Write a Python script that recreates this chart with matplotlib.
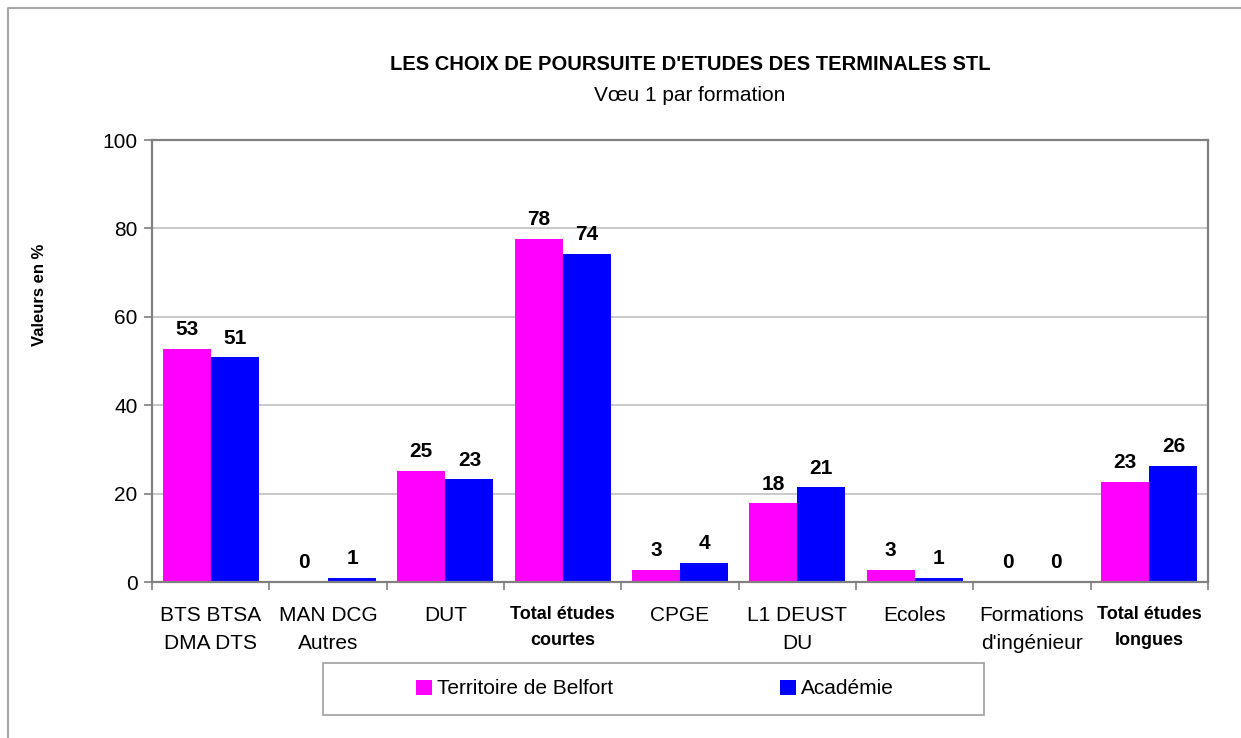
import matplotlib.pyplot as plt
import numpy as np
from matplotlib.lines import Line2D
from matplotlib.patches import Rectangle, Patch

categories = ["BTS BTSA\nDMA DTS", "MAN DCG\nAutres", "DUT", "Total études\ncourtes",
              "CPGE", "L1 DEUST\nDU", "Ecoles", "Formations\nd'ingénieur",
              "Total études\nlongues"]
is_total = [False, False, False, True, False, False, False, False, True]
belfort = [52.7, 0.0, 25.2, 77.7, 2.8, 17.8, 2.8, 0.0, 22.7]
academie = [50.8, 0.9, 23.2, 74.3, 4.4, 21.4, 0.9, 0.0, 26.2]
series_names = ["Territoire de Belfort", "Académie"]
colors = ["#ff00ff", "#0000ff"]
yticks = [0, 20, 40, 60, 80, 100]

plt.rcParams['font.family'] = ['Liberation Sans', 'DejaVu Sans']

W, H = 1241, 738
fig = plt.figure(figsize=(W / 100, H / 100), dpi=100)


def fx(px):
    return px / W


def fy(py):
    return 1 - py / H


ax = fig.add_axes([fx(152), fy(582), fx(1208) - fx(152), fy(140) - fy(582)])

x = np.arange(len(categories))
bw = 0.41
for vals, off, col in [(belfort, -bw / 2, colors[0]), (academie, bw / 2, colors[1])]:
    ax.bar(x + off, vals, width=bw, color=col, zorder=2)
    for xi, v in zip(x, vals):
        ax.annotate(f"{v:.0f}", (xi + off, v), xytext=(0, 7), textcoords="offset points",
                    ha="center", va="bottom", fontsize=15, fontweight="bold")

ax.set_xlim(-0.5, len(categories) - 0.5)
ax.set_ylim(0, 100)
ax.set_yticks(yticks)
ax.tick_params(axis="y", labelsize=15, length=5.5, width=1.2, color="#808080", pad=5)
ax.set_xticks(x)
ax.set_xticklabels(categories, fontsize=15, linespacing=1.6)
ax.set_xticks(np.arange(-0.5, len(categories)), minor=True)
ax.tick_params(axis="x", which="major", length=0, pad=17)
ax.tick_params(axis="x", which="minor", length=5.5, width=1.2, color="#808080")
for lbl, tot in zip(ax.get_xticklabels(), is_total):
    lbl.set_verticalalignment("top")
    if tot:
        lbl.set_fontweight("bold")
        lbl.set_fontsize(13)
        lbl.set_linespacing(1.7)

ax.grid(axis="y", color="#c0c0c0", linewidth=1.2)
ax.set_axisbelow(True)
for sp in ax.spines.values():
    sp.set_color("#808080")
    sp.set_linewidth(1.6)

# titles and axis label
fig.text(fx(690), fy(70), "LES CHOIX DE POURSUITE D'ETUDES DES TERMINALES STL",
         ha="center", va="baseline", fontsize=14.5, fontweight="bold")
fig.text(fx(690), fy(101), "Vœu 1 par formation", ha="center", va="baseline", fontsize=15)
fig.text(fx(40), fy(295), "Valeurs en %", rotation=90, ha="center", va="center",
         fontsize=12, fontweight="bold")

# legend with its own box
fig.add_artist(Rectangle((fx(323), fy(715)), fx(984) - fx(323), fy(663) - fy(715),
                         transform=fig.transFigure, fill=False, edgecolor="#a0a0a0", linewidth=1.2))
handles = [Patch(facecolor=c, edgecolor="none") for c in colors]
fig.legend(handles, series_names, loc="center", bbox_to_anchor=(fx(655), fy(689)), ncol=2,
           frameon=False, fontsize=15, handlelength=0.75, handleheight=0.75,
           handletextpad=0.25, columnspacing=8.0)

# chart area border
fig.add_artist(Line2D([fx(8), fx(8), fx(W)], [0, fy(8), fy(8)], transform=fig.transFigure,
                      color="#a6a6a6", linewidth=1.5))

fig.savefig("out.png", dpi=100)
